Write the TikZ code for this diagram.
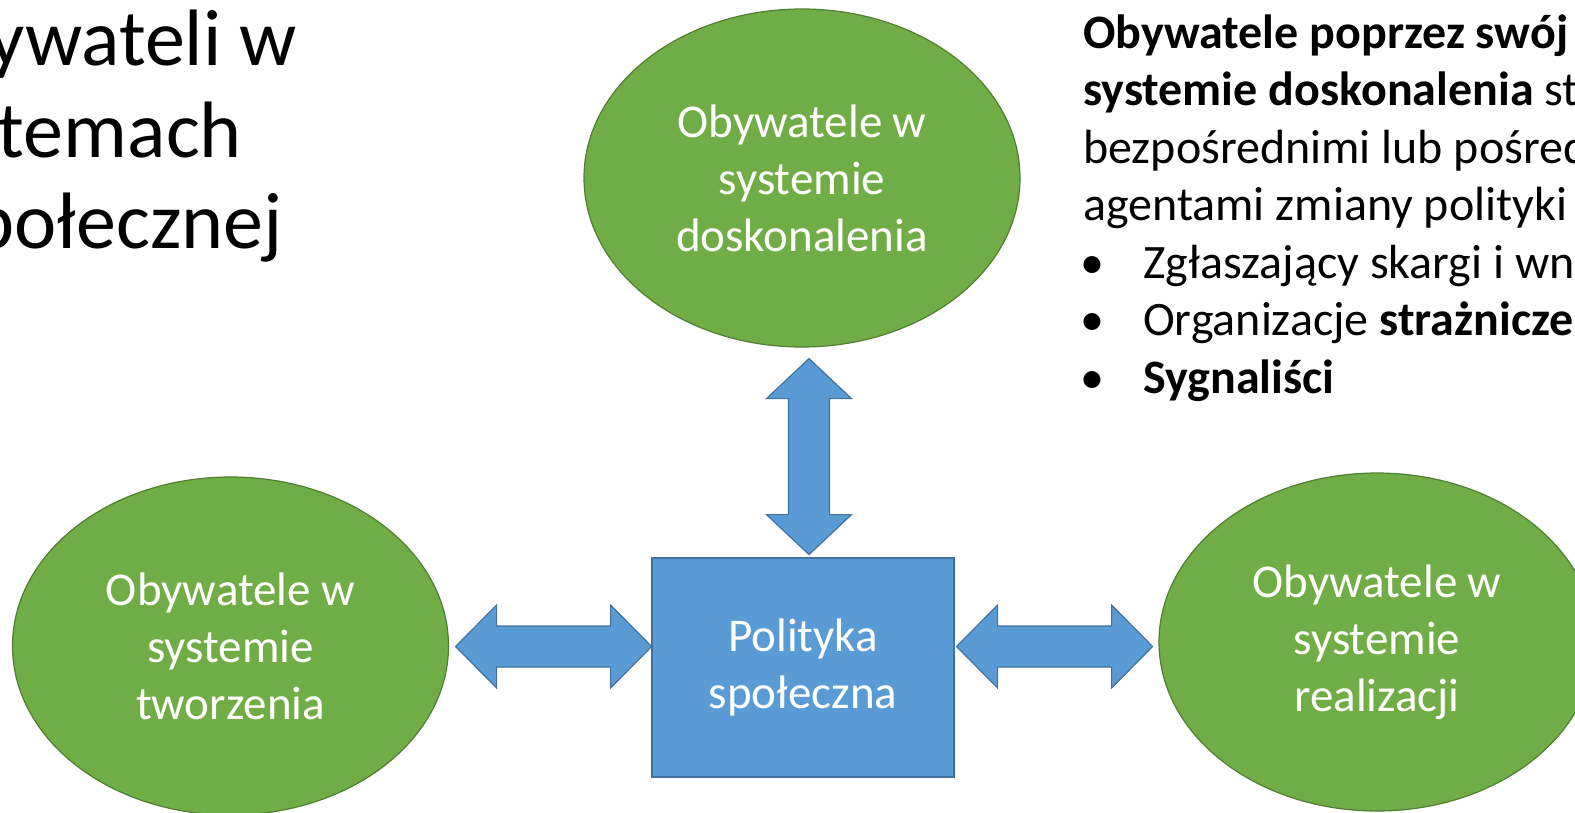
\documentclass[tikz,border=0pt]{standalone}
\usepackage{fontspec}
\setmainfont{Carlito}
\usetikzlibrary{shapes.geometric,calc}
\definecolor{grfill}{HTML}{70AD47}
\definecolor{grline}{HTML}{507E32}
\definecolor{blfill}{HTML}{5B9BD5}
\definecolor{blline}{HTML}{41719C}
\begin{document}
\begin{tikzpicture}[x=1pt,y=-1pt,
  oval/.style={ellipse, draw=grline, fill=grfill, line width=1.2pt, inner sep=0pt,
    minimum width=436pt, minimum height=338pt, text=white, align=center,
    font=\fontsize{47}{57}\selectfont},
  polbox/.style={rectangle, draw=blline, fill=blfill, line width=1.2pt, inner sep=0pt,
    minimum width=302pt, minimum height=219pt, text=white, align=center,
    font=\fontsize{47}{57}\selectfont},
  fat/.style={draw=blline, fill=blfill, line width=1.2pt, line join=miter},
  ttl/.style={anchor=base east, inner sep=0pt, font=\fontsize{80}{92}\selectfont},
  body/.style={anchor=base west, inner sep=0pt, font=\fontsize{48}{57.5}\selectfont}]
\useasboundingbox (0,0) rectangle (1575,812);
\fill[white] (0,0) rectangle (1575,812);
\clip (0,0) rectangle (1575,812);

% title (cut off on the left)
\node[ttl] (ti1) at (297,65) {ywateli w};
\node[ttl] (ti2) at (242,157) {temach};
\node[ttl] (ti3) at (283,248) {połecznej};

% shapes
\node[oval] (dosk) at (802,178) {Obywatele w\\systemie\\doskonalenia};
\node[oval] (tw) at (230.5,646) {Obywatele w\\systemie\\tworzenia};
\node[oval] (real) at (1377,642) {Obywatele w\\systemie\\realizacji};
\node[polbox] (pol) at (803,667.5) {Polityka\\społeczna};

% fat double arrows
\draw[fat] ($(dosk.south)+(7,11)$) -- ++(42.5,40) -- ++(-22,0) -- ++(0,116) -- ++(22,0)
  -- ++(-42.5,40) -- ++(-42.5,-40) -- ++(22,0) -- ++(0,-116) -- ++(-22,0) -- cycle;
\draw[fat] ($(tw.east)+(6.5,0.5)$) -- ++(41,-41.5) -- ++(0,21) -- ++(114,0) -- ++(0,-21)
  -- ++(41,41.5) -- ++(-41,41.5) -- ++(0,-21) -- ++(-114,0) -- ++(0,21) -- cycle;
\draw[fat] ($(pol.east)+(2,-21)$) -- ++(41,-41.5) -- ++(0,21) -- ++(114,0) -- ++(0,-21)
  -- ++(41,41.5) -- ++(-41,41.5) -- ++(0,-21) -- ++(-114,0) -- ++(0,21) -- cycle;

% right text block
\node[body] (r1) at (1083,48) {\textbf{Obywatele poprzez swój}};
\node[body] (r2) at (1083,105.5) {\textbf{systemie doskonalenia} st};
\node[body] (r3) at (1083,163) {bezpośrednimi lub pośred};
\node[body] (r4) at (1083,220.5) {agentami zmiany polityki};
\node[body] (b5) at (1080,278) {•};
\node[body] (r5) at (1143,278) {Zgłaszający skargi i wn};
\node[body] (b6) at (1080,335.5) {•};
\node[body] (r6) at (1143,335.5) {Organizacje \textbf{strażnicze}};
\node[body] (b7) at (1080,393) {•};
\node[body] (r7) at (1143,393) {\textbf{Sygnaliści}};
\end{tikzpicture}
\end{document}
